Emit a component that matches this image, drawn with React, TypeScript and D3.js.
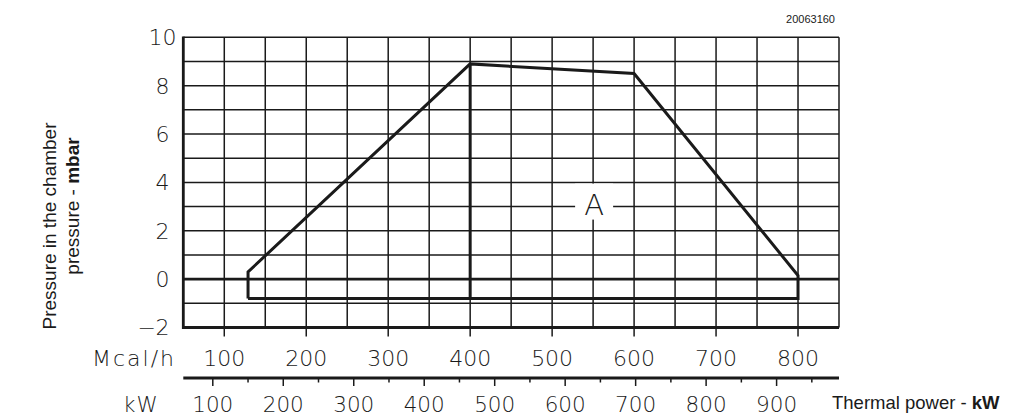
import React from "react";
import * as d3 from "d3";

// thermal power axis values (Mcal/h is the plotting unit, kW is derived)
const mcalTicks = [100, 200, 300, 400, 500, 600, 700, 800];
const kwTicks = [100, 200, 300, 400, 500, 600, 700, 800, 900];
const kwMinorTicks = [150, 250, 350, 450, 550, 650, 750, 850, 950];
const pressureTicks = [-2, 0, 2, 4, 6, 8, 10];

// working field "A" outline
const envelopeMcal = [129, 129, 400, 600, 800, 800, 129];
const envelopePressure = [-0.8, 0.3, 8.9, 8.5, 0.15, -0.8, -0.8];
const dividerMcal = 400;
const fieldLabel = { text: "A", mcal: 550, pressure: 3 };

const KW_PER_MCAL = 1.163;
const W = 1024;
const H = 418;
const thin = "'DejaVu Sans', sans-serif";
const arial = "'Liberation Sans', Arial, sans-serif";
const ink = "#1a1a1a";

export default function App() {
  const x = d3.scaleLinear().domain([50, 850]).range([183.3, 839]);
  const y = d3.scaleLinear().domain([-2, 10]).range([327.5, 37.3]);
  const [x0, x1] = x.range();
  const [yb, yt] = y.range();

  const xGrid = d3.range(50, 851, 50);
  const yGrid = d3.range(-2, 11, 1);

  const pts = envelopeMcal.map((m, i) => [m, envelopePressure[i]] as [number, number]);
  const line = d3
    .line<[number, number]>()
    .x((d) => x(d[0]))
    .y((d) => y(d[1]));

  const peak = envelopePressure[envelopeMcal.indexOf(dividerMcal)];
  const floor = d3.min(envelopePressure) as number;

  const kwAxisY = 378;
  const kwLabelY = 404.5;
  const lx = x(fieldLabel.mcal);
  const ly = y(fieldLabel.pressure);

  return (
    <svg
      width={W}
      height={H}
      style={{ position: "absolute", left: 0, top: 0, background: "#fff" }}
    >
      <rect width={W} height={H} fill="#fff" />
      <text x={835} y={23} fontFamily={arial} fontSize={11} textAnchor="end" fill={ink}>
        20063160
      </text>

      {/* grid */}
      <g stroke={ink} strokeWidth={1.5}>
        {xGrid.map((v) => (
          <line key={"gx" + v} x1={x(v)} x2={x(v)} y1={yt} y2={yb} />
        ))}
        {yGrid.map((v) => (
          <line key={"gy" + v} x1={x0} x2={x1} y1={y(v)} y2={y(v)} />
        ))}
      </g>
      <g stroke={ink} strokeWidth={2.8}>
        <line x1={x0} x2={x0} y1={yt - 0.7} y2={yb + 1.4} />
        <line x1={x0} x2={x1} y1={yb} y2={yb} />
        <line x1={x0} x2={x1} y1={y(0)} y2={y(0)} />
      </g>

      {/* envelope */}
      <path d={line(pts) || ""} fill="none" stroke={ink} strokeWidth={3} strokeLinejoin="miter" />
      <line
        x1={x(dividerMcal)}
        x2={x(dividerMcal)}
        y1={y(peak)}
        y2={y(floor)}
        stroke={ink}
        strokeWidth={3}
      />

      {/* field label */}
      <rect x={lx - 18} y={ly - 23} width={38} height={36} fill="#fff" />
      <text
        x={lx + 1}
        y={ly + 8}
        fontFamily={thin}
        fontWeight={200}
        fontSize={29}
        textAnchor="middle"
        fill={ink}
      >
        {fieldLabel.text}
      </text>

      {/* pressure ticks */}
      {pressureTicks.map((v) => (
        <g key={"py" + v} fontFamily={thin} fontWeight={200} fontSize={22} fill={ink}>
          <text x={162.5} y={y(v)} dy="0.36em" textAnchor="middle">
            {String(Math.abs(v))}
          </text>
          {v < 0 && (
            <text x={156} y={y(v)} dy="0.36em" textAnchor="end">
              −
            </text>
          )}
        </g>
      ))}

      {/* Mcal/h axis */}
      <g stroke={ink} strokeWidth={1.5}>
        {mcalTicks.map((v) => (
          <line key={"mt" + v} x1={x(v)} x2={x(v)} y1={yb} y2={yb + 9} />
        ))}
      </g>
      <g fontFamily={thin} fontWeight={200} fontSize={22} fill={ink}>
        <text x={92} y={358} dy="0.36em" letterSpacing={2}>
          Mcal/h
        </text>
        {mcalTicks.map((v) => (
          <text key={"ml" + v} x={x(v)} y={358} dy="0.36em" textAnchor="middle">
            {v}
          </text>
        ))}
      </g>

      {/* kW axis */}
      <line x1={x0} x2={x1} y1={kwAxisY} y2={kwAxisY} stroke={ink} strokeWidth={3} />
      <g stroke={ink} strokeWidth={1.5}>
        {kwTicks.map((v) => (
          <line key={"kt" + v} x1={x(v / KW_PER_MCAL)} x2={x(v / KW_PER_MCAL)} y1={kwAxisY} y2={kwAxisY + 8} />
        ))}
        {kwMinorTicks.map((v) => (
          <line key={"km" + v} x1={x(v / KW_PER_MCAL)} x2={x(v / KW_PER_MCAL)} y1={kwAxisY} y2={kwAxisY + 4.5} />
        ))}
      </g>
      <g fontFamily={thin} fontWeight={200} fontSize={21.5} fill={ink}>
        <text x={123} y={kwLabelY} dy="0.36em" letterSpacing={1}>
          kW
        </text>
        {kwTicks.map((v) => (
          <text key={"kl" + v} x={x(v / KW_PER_MCAL)} y={kwLabelY} dy="0.36em" textAnchor="middle">
            {v}
          </text>
        ))}
      </g>

      {/* axis titles */}
      <g fontFamily={arial} fontSize={19} fill={ink} textAnchor="middle">
        <text transform="translate(56,226) rotate(-90)">Pressure in the chamber</text>
        <text transform="translate(79,206) rotate(-90)">
          pressure - <tspan fontWeight="bold">mbar</tspan>
        </text>
      </g>
      <text x={832} y={409} fontFamily={arial} fontSize={18.5} fill={ink}>
        Thermal power - <tspan fontWeight="bold">kW</tspan>
      </text>
    </svg>
  );
}
